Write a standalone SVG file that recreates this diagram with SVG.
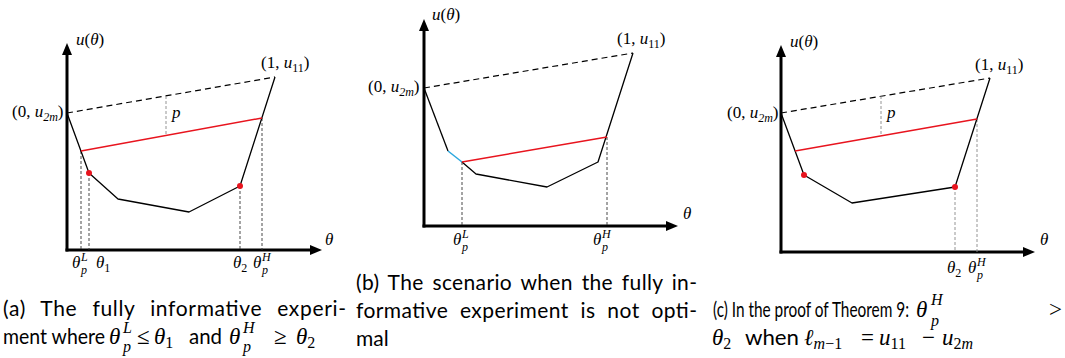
<svg xmlns="http://www.w3.org/2000/svg" width="1065" height="358" viewBox="0 0 1065 358">
<style>
.axis{stroke:#000;stroke-width:3;fill:none}
.curve{stroke:#000;stroke-width:1.3;fill:none;stroke-linejoin:round}
.red{stroke:#e8141e;stroke-width:1.5;fill:none}
.cyan{stroke:#2aa7de;stroke-width:1.5;fill:none}
.dash{stroke:#000;stroke-width:1.2;stroke-dasharray:6 4;fill:none}
.vd{stroke:#333;stroke-width:0.9;stroke-dasharray:3 2;fill:none}
.vg{stroke:#888;stroke-width:0.9;stroke-dasharray:3 2;fill:none}
.dot{fill:#e8141e}
.m{font-family:"Liberation Serif","DejaVu Serif",serif;font-size:17px;fill:#000}
.i{font-style:italic}
.s{font-size:12px}
.cap{font-family:"Lato","Liberation Sans",sans-serif;font-size:21px;fill:#000}
.cm{font-family:"Liberation Serif","DejaVu Serif",serif;font-size:23px;fill:#000}
.cs{font-size:16px}
</style>
<defs>
<marker id="arr" markerUnits="userSpaceOnUse" markerWidth="12" markerHeight="10" refX="0" refY="5" orient="auto">
<path d="M0,0 L12,5 L0,10 Z" fill="#000"/>
</marker>
</defs>

<g id="panel-a">
<g id="a-axes">
<path class="axis" d="M67,251.5 V55" marker-end="url(#arr)"/>
<path class="axis" d="M65.5,250 H310" marker-end="url(#arr)"/>
</g>
<g id="a-connectors">
<path class="dash" d="M67,113 L275,77"/>
<path class="vg" d="M166,96 V135"/>
<path class="vd" d="M81,151 V250 M89,173 V250 M240,186 V250 M262,118 V250"/>
<path class="curve" d="M67,113 L89,173 L118,199 L189,212 L240,186 L275,77"/>
<path class="red" d="M81,151 L262,118"/>
<circle class="dot" cx="89" cy="173" r="3"/>
<circle class="dot" cx="240" cy="186" r="3"/>
</g>
<g id="a-labels">
<text class="m" x="76" y="45"><tspan class="i">u</tspan>(<tspan class="i">θ</tspan>)</text>
<text class="m" x="261" y="68">(1, <tspan class="i">u</tspan><tspan class="s" dy="4">11</tspan><tspan dy="-4">)</tspan></text>
<text class="m" x="12" y="117">(0, <tspan class="i">u</tspan><tspan class="s i" dy="4">2m</tspan><tspan dy="-4">)</tspan></text>
<text class="m i" x="172" y="118">p</text>
<text class="m i" x="325" y="245">θ</text>
<text class="m" x="72" y="268"><tspan class="i">θ</tspan><tspan class="s i" x="81" y="261">L</tspan><tspan class="s i" x="81" y="274">p</tspan></text>
<text class="m" x="96" y="268"><tspan class="i">θ</tspan><tspan class="s" dy="4">1</tspan></text>
<text class="m" x="233" y="268"><tspan class="i">θ</tspan><tspan class="s" dy="4">2</tspan></text>
<text class="m" x="253" y="268"><tspan class="i">θ</tspan><tspan class="s i" x="262" y="261">H</tspan><tspan class="s i" x="262" y="274">p</tspan></text>
</g>
</g>

<g id="panel-b">
<g id="b-axes">
<path class="axis" d="M424,227.5 V31" marker-end="url(#arr)"/>
<path class="axis" d="M422.5,226 H666" marker-end="url(#arr)"/>
</g>
<g id="b-connectors">
<path class="dash" d="M424,88 L633,53"/>
<path class="vd" d="M462,162 V226 M607,137 V226"/>
<path class="curve" d="M424,88 L448,151"/>
<path class="cyan" d="M448,151 L462,162"/>
<path class="curve" d="M462,162 L476,174 L547,187 L598,162 L633,53"/>
<path class="red" d="M462,162 L607,137"/>
</g>
<g id="b-labels">
<text class="m" x="432" y="20"><tspan class="i">u</tspan>(<tspan class="i">θ</tspan>)</text>
<text class="m" x="617" y="44">(1, <tspan class="i">u</tspan><tspan class="s" dy="4">11</tspan><tspan dy="-4">)</tspan></text>
<text class="m" x="368" y="92">(0, <tspan class="i">u</tspan><tspan class="s i" dy="4">2m</tspan><tspan dy="-4">)</tspan></text>
<text class="m i" x="683" y="219">θ</text>
<text class="m" x="453" y="245"><tspan class="i">θ</tspan><tspan class="s i" x="462" y="238">L</tspan><tspan class="s i" x="462" y="251">p</tspan></text>
<text class="m" x="593" y="245"><tspan class="i">θ</tspan><tspan class="s i" x="602" y="238">H</tspan><tspan class="s i" x="602" y="251">p</tspan></text>
</g>
</g>

<g id="panel-c">
<g id="c-axes">
<path class="axis" d="M781,253.5 V57" marker-end="url(#arr)"/>
<path class="axis" d="M779.5,252 H1023" marker-end="url(#arr)"/>
</g>
<g id="c-connectors">
<path class="dash" d="M781,113 L990,78"/>
<path class="vg" d="M881,96 V136 M955,187 V252 M977,119 V252"/>
<path class="curve" d="M781,113 L804,175 L852,203 L955,187 L990,78"/>
<path class="red" d="M795,151 L977,119"/>
<circle class="dot" cx="804" cy="175" r="3"/>
<circle class="dot" cx="955" cy="187" r="3"/>
</g>
<g id="c-labels">
<text class="m" x="790" y="47"><tspan class="i">u</tspan>(<tspan class="i">θ</tspan>)</text>
<text class="m" x="975" y="70">(1, <tspan class="i">u</tspan><tspan class="s" dy="4">11</tspan><tspan dy="-4">)</tspan></text>
<text class="m" x="727" y="118">(0, <tspan class="i">u</tspan><tspan class="s i" dy="4">2m</tspan><tspan dy="-4">)</tspan></text>
<text class="m i" x="887" y="118">p</text>
<text class="m i" x="1040" y="245">θ</text>
<text class="m" x="947" y="273"><tspan class="i">θ</tspan><tspan class="s" dy="4">2</tspan></text>
<text class="m" x="968" y="273"><tspan class="i">θ</tspan><tspan class="s i" x="977" y="266">H</tspan><tspan class="s i" x="977" y="279">p</tspan></text>
</g>
</g>

<g id="captions">
<text class="cap" x="3" y="316" word-spacing="9" textLength="343" lengthAdjust="spacing">(a) The fully informative experi-</text>
<text class="cap" x="3" y="344" textLength="102" lengthAdjust="spacingAndGlyphs">ment where</text>
<text class="cm" x="109" y="344"><tspan class="i">θ</tspan><tspan class="cs i" x="123" y="333">L</tspan><tspan class="cs i" x="123" y="352">p</tspan></text>
<text class="cm" x="137" y="344">≤</text>
<text class="cm" x="154" y="344"><tspan class="i">θ</tspan><tspan class="cs" dy="4">1</tspan></text>
<text class="cap" x="189" y="344" textLength="33" lengthAdjust="spacingAndGlyphs">and</text>
<text class="cm" x="229" y="344"><tspan class="i">θ</tspan><tspan class="cs i" x="243" y="333">H</tspan><tspan class="cs i" x="243" y="352">p</tspan></text>
<text class="cm" x="274" y="344">≥</text>
<text class="cm" x="296" y="344"><tspan class="i">θ</tspan><tspan class="cs" dy="4">2</tspan></text>

<text class="cap" x="356" y="290" word-spacing="3" textLength="341" lengthAdjust="spacing">(b) The scenario when the fully in-</text>
<text class="cap" x="356" y="318" word-spacing="6" textLength="341" lengthAdjust="spacing">formative experiment is not opti-</text>
<text class="cap" x="356" y="346">mal</text>

<text class="cap" x="713" y="317" textLength="196" lengthAdjust="spacingAndGlyphs">(c) In the proof of Theorem 9:</text>
<text class="cm" x="916" y="317"><tspan class="i">θ</tspan><tspan class="cs i" x="931" y="305">H</tspan><tspan class="cs i" x="931" y="326">p</tspan></text>
<text class="cm" x="1049" y="317">&gt;</text>
<text class="cm" x="712" y="345"><tspan class="i">θ</tspan><tspan class="cs" dy="4">2</tspan></text>
<text class="cap" x="745" y="345" textLength="54" lengthAdjust="spacingAndGlyphs">when</text>
<text class="cm" x="804" y="345"><tspan class="i">ℓ</tspan><tspan class="cs" dy="4"><tspan class="i">m</tspan>−1</tspan></text>
<text class="cm" x="861" y="345">=</text>
<text class="cm" x="879" y="345"><tspan class="i">u</tspan><tspan class="cs" dy="4">11</tspan></text>
<text class="cm" x="922" y="345">−</text>
<text class="cm" x="942" y="345"><tspan class="i">u</tspan><tspan class="cs" dy="4">2<tspan class="i">m</tspan></tspan></text>
</g>
</svg>
